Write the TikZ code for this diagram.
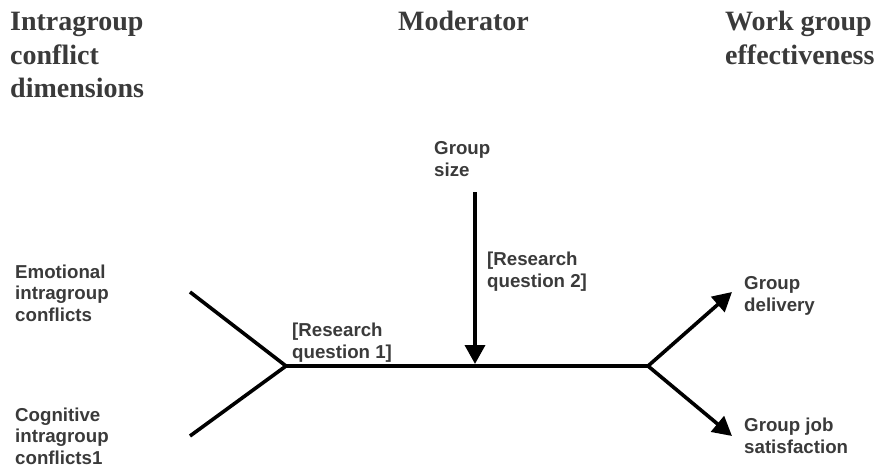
\documentclass[tikz,border=0pt]{standalone}
\usepackage{fontspec}
\setmainfont{Liberation Serif}
\setsansfont{Liberation Sans}
\usetikzlibrary{arrows.meta}

\definecolor{txt}{HTML}{3A3A3A}

\tikzset{
  head/.style={font=\bfseries\fontsize{28}{33.5}\selectfont, text=txt,
    align=left, inner sep=0pt, anchor=base west},
  lbl/.style={font=\sffamily\bfseries\fontsize{18.7}{21.7}\selectfont, text=txt,
    align=left, inner sep=0pt, anchor=base west},
  link/.style={line width=3.6pt},
  flow/.style={link, -{Triangle[length=19pt,width=20pt]}}
}

\begin{document}
\begin{tikzpicture}[x=1pt, y=-1pt]

  \useasboundingbox (0,0) rectangle (878,468);

  % column headings (placed at the baseline of the last line)
  \node[head] (hdim) at (10,98) {Intragroup\\conflict\\dimensions};
  \node[head] (hmod) at (398,31) {Moderator};
  \node[head] (heff) at (725,64.5) {Work group\\effectiveness};

  % labels
  \node[lbl] (emo)   at (15,321.5) {Emotional\\intragroup\\conflicts};
  \node[lbl] (cog)   at (15,464.5) {Cognitive\\intragroup\\conflicts1};
  \node[lbl] (size)  at (434,176)  {Group\\size};
  \node[lbl] (rq1)   at (292,358)  {[Research\\question 1]};
  \node[lbl] (rq2)   at (487,287)  {[Research\\question 2]};
  \node[lbl] (deliv) at (744,311)  {Group\\delivery};
  \node[lbl] (satis) at (744,453)  {Group job\\satisfaction};

  % path points
  \coordinate (emoend) at (190,292);
  \coordinate (cogend) at (190,436);
  \coordinate (jl) at (286,366);
  \coordinate (jr) at (648,366);
  \coordinate (mid) at (475,364);
  \coordinate (top) at (475,192);
  \coordinate (delivend) at (732,292);
  \coordinate (satisend) at (732,436);

  \draw[link] (emoend) -- (jl) -- (cogend);
  \draw[link] (jl) -- (jr);
  \draw[flow] (top) -- (mid);
  \draw[flow] (jr) -- (delivend);
  \draw[flow] (jr) -- (satisend);

\end{tikzpicture}
\end{document}
